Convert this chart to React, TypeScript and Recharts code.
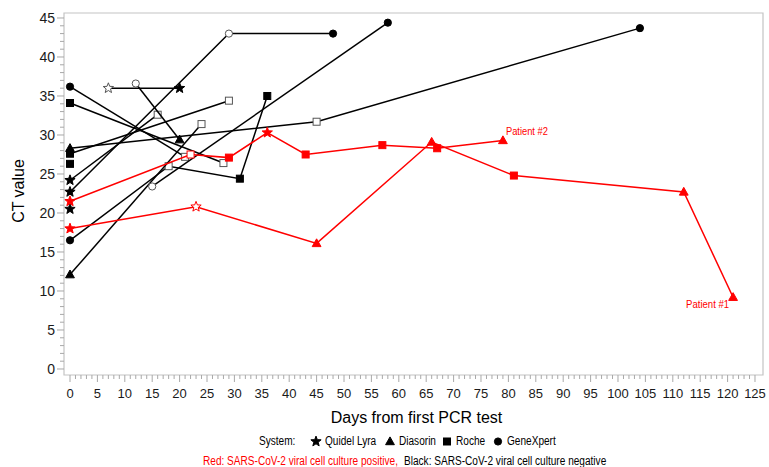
import React from 'react';
import { ScatterChart, Scatter, XAxis, YAxis, ReferenceArea } from 'recharts';

type Pt = { x: number; y: number; m: 'star' | 'tri' | 'sq' | 'cir'; o?: boolean; label?: string };

// Black: culture negative patients
const neg1: Pt[] = [{ x: 0, y: 36.2, m: 'cir' }, { x: 21, y: 27.2, m: 'sq', o: true }];
const neg2: Pt[] = [{ x: 0, y: 34.1, m: 'sq' }, { x: 28, y: 26.4, m: 'sq', o: true }];
const neg3: Pt[] = [{ x: 0, y: 28.3, m: 'tri' }, { x: 45, y: 31.7, m: 'sq', o: true }, { x: 104, y: 43.7, m: 'cir' }];
const neg4: Pt[] = [{ x: 0, y: 27.6, m: 'sq' }, { x: 29, y: 34.4, m: 'sq', o: true }];
const neg5: Pt[] = [{ x: 0, y: 26.3, m: 'sq' }];
const neg6: Pt[] = [{ x: 0, y: 24.2, m: 'star' }, { x: 16, y: 32.6, m: 'sq', o: true }];
const neg7: Pt[] = [{ x: 0, y: 22.7, m: 'star' }, { x: 29, y: 43.0, m: 'cir', o: true }, { x: 48, y: 43.0, m: 'cir' }];
const neg8: Pt[] = [{ x: 0, y: 20.5, m: 'star' }];
const neg9: Pt[] = [{ x: 0, y: 16.5, m: 'cir' }, { x: 18, y: 26.0, m: 'sq', o: true }, { x: 31, y: 24.4, m: 'sq' }, { x: 36, y: 35.0, m: 'sq' }];
const neg10: Pt[] = [{ x: 0, y: 12.1, m: 'tri' }, { x: 24, y: 31.4, m: 'sq', o: true }];
const neg11: Pt[] = [{ x: 7, y: 36.0, m: 'star', o: true }, { x: 20, y: 36.0, m: 'star' }];
const neg12: Pt[] = [{ x: 12, y: 36.6, m: 'cir', o: true }, { x: 20, y: 29.4, m: 'tri' }];
const neg13: Pt[] = [{ x: 15, y: 23.4, m: 'cir', o: true }, { x: 58, y: 44.4, m: 'cir' }];

// Red: culture positive patients
const patient2: Pt[] = [
  { x: 0, y: 21.5, m: 'star' }, { x: 22, y: 27.5, m: 'sq', o: true }, { x: 29, y: 27.1, m: 'sq' },
  { x: 36, y: 30.3, m: 'star' }, { x: 43, y: 27.5, m: 'sq' }, { x: 57, y: 28.7, m: 'sq' },
  { x: 67, y: 28.3, m: 'sq' }, { x: 79, y: 29.3, m: 'tri', label: 'Patient #2' },
];
const patient1: Pt[] = [
  { x: 0, y: 18.0, m: 'star' }, { x: 23, y: 20.8, m: 'star', o: true }, { x: 45, y: 16.1, m: 'tri' },
  { x: 66, y: 29.1, m: 'tri' }, { x: 81, y: 24.8, m: 'sq' }, { x: 112, y: 22.7, m: 'tri' },
  { x: 121, y: 9.2, m: 'tri', label: 'Patient #1' },
];

const negSeries = [neg1, neg2, neg3, neg4, neg5, neg6, neg7, neg8, neg9, neg10, neg11, neg12, neg13];
const posSeries = [patient2, patient1];

const xMajorTicks = [0, 5, 10, 15, 20, 25, 30, 35, 40, 45, 50, 55, 60, 65, 70, 75, 80, 85, 90, 95, 100, 105, 110, 115, 120, 125];
const yMajorTicks = [0, 5, 10, 15, 20, 25, 30, 35, 40, 45];
const xAllTicks = Array.from({ length: 126 }, (_, i) => i);
const yAllTicks = Array.from({ length: 46 }, (_, i) => i);

const X_DOMAIN: [number, number] = [-1.095, 126.46];
const Y_DOMAIN: [number, number] = [-0.77, 45.64];

const legendTitle = 'System:';
const legendItems = [
  { m: 'star', name: 'Quidel Lyra' },
  { m: 'tri', name: 'Diasorin' },
  { m: 'sq', name: 'Roche' },
  { m: 'cir', name: 'GeneXpert' },
];
const footerRed = 'Red: SARS-CoV-2 viral cell culture positive,';
const footerBlack = 'Black: SARS-CoV-2 viral cell culture negative';

const ARIAL = 'Liberation Sans, Arial, sans-serif';
const TICK_GRAY = '#a8a8a8';
const FRAME_GRAY = '#c4c4c4';

function starPath(cx: number, cy: number, R: number, r: number) {
  let d = '';
  for (let i = 0; i < 10; i++) {
    const a = (-90 + i * 36) * Math.PI / 180;
    const rad = i % 2 === 0 ? R : r;
    d += (i === 0 ? 'M' : 'L') + (cx + rad * Math.cos(a)).toFixed(2) + ',' + (cy + rad * Math.sin(a)).toFixed(2);
  }
  return d + 'Z';
}

function Marker({ m, cx, cy, color, open }: { m: string; cx: number; cy: number; color: string; open?: boolean }) {
  const fill = open ? '#fff' : color;
  const stroke = open ? (color === '#000' ? '#555' : color) : color;
  const sw = 1;
  if (m === 'sq') return <rect x={cx - 3.5} y={cy - 3.5} width={7} height={7} fill={fill} stroke={stroke} strokeWidth={sw} />;
  if (m === 'cir') return <circle cx={cx} cy={cy} r={3.6} fill={fill} stroke={stroke} strokeWidth={sw} />;
  if (m === 'tri') return <path d={`M${cx},${cy - 4.6}L${cx + 4.4},${cy + 3.2}L${cx - 4.4},${cy + 3.2}Z`} fill={fill} stroke={stroke} strokeWidth={sw} />;
  return <path d={starPath(cx, cy, 5.4, 2.3)} fill={fill} stroke={stroke} strokeWidth={sw} strokeLinejoin="round" />;
}

const makeShape = (color: string) => (props: any) => {
  const { cx, cy, payload } = props;
  if (cx == null || cy == null) return <g />;
  const p = payload as Pt;
  let label = null;
  if (p.label === 'Patient #2') {
    label = (
      <text x={cx + 3} y={cy - 5} fill={color} fontSize={11} fontFamily={ARIAL} textLength={42} lengthAdjust="spacingAndGlyphs">
        {p.label}
      </text>
    );
  } else if (p.label === 'Patient #1') {
    label = (
      <text x={cx - 47} y={cy + 11} fill={color} fontSize={11} fontFamily={ARIAL} textLength={43} lengthAdjust="spacingAndGlyphs">
        {p.label}
      </text>
    );
  }
  return (
    <g>
      <Marker m={p.m} cx={cx} cy={cy} color={color} open={p.o} />
      {label}
    </g>
  );
};

const blackShape = makeShape('#000');
const redShape = makeShape('#ff0000');

const XTick = (props: any) => {
  const { x, y, payload } = props;
  const v = payload.value as number;
  const major = xMajorTicks.includes(v);
  return (
    <g>
      <line x1={x} x2={x} y1={y} y2={y + (major ? 7 : 4)} stroke={TICK_GRAY} strokeWidth={1} />
      {major && (
        <text x={x} y={y + 23} textAnchor="middle" fontSize={13} fill="#1a1a1a" fontFamily={ARIAL}>{v}</text>
      )}
    </g>
  );
};

const YTick = (props: any) => {
  const { x, y, payload } = props;
  const v = payload.value as number;
  const major = yMajorTicks.includes(v);
  return (
    <g>
      <line x1={x - (major ? 7 : 4)} x2={x} y1={y} y2={y} stroke={TICK_GRAY} strokeWidth={1} />
      {major && (
        <text x={x - 9} y={y + 5} textAnchor="end" fontSize={14} fill="#1a1a1a" fontFamily={ARIAL}>{v}</text>
      )}
    </g>
  );
};

const XTitle = (props: any) => {
  const vb = props.viewBox || {};
  return (
    <text x={vb.x + vb.width / 2 + 3} y={vb.y + 48} textAnchor="middle" fontSize={16} fill="#000" fontFamily={ARIAL}>
      Days from first PCR test
    </text>
  );
};

const YTitle = (props: any) => {
  const vb = props.viewBox || {};
  const cy = vb.y + vb.height / 2 - 3;
  const cx = 10;
  return (
    <text x={cx} y={cy} transform={`rotate(-90, ${cx}, ${cy})`} textAnchor="middle" dominantBaseline="central" fontSize={16} fill="#000" fontFamily={ARIAL}>
      CT value
    </text>
  );
};

function LegendSymbol({ m, left, top }: { m: string; left: number; top: number }) {
  return (
    <svg width={12} height={12} style={{ position: 'absolute', left: left - 6, top: top - 6 }}>
      <Marker m={m} cx={6} cy={6.5} color="#000" />
    </svg>
  );
}

const narrowText = (text: string, left: number, top: number, color: string) => (
  <span
    key={text}
    style={{
      position: 'absolute', left, top: top - 8, height: 16, lineHeight: '16px', fontFamily: ARIAL, fontSize: 12,
      color, whiteSpace: 'nowrap', transform: 'scaleX(0.84)', transformOrigin: '0 50%',
    }}
  >
    {text}
  </span>
);

// legend positions are in chart coordinates (page minus 8px offset)
const LEG_ROW = 433;
const FOOT_ROW = 453;
const legendSymbolX = [308, 382, 439, 490];
const legendTextX = [317, 391, 448, 499];

export default function App() {
  return (
    <div style={{ width: 769, height: 467, boxSizing: 'border-box', padding: '8px 0 0 8px', overflow: 'hidden' }}>
      <style>{'html, body { margin: 0; padding: 0; overflow: hidden; }'}</style>
      <div style={{ position: 'relative', width: 761, height: 459 }}>
        <ScatterChart width={761} height={459} margin={{ top: 5, right: 6, bottom: 0, left: 0 }}>
          <XAxis
            xAxisId="x"
            dataKey="x"
            type="number"
            domain={X_DOMAIN}
            allowDataOverflow
            ticks={xAllTicks}
            interval={0}
            tickSize={0}
            tickMargin={0}
            tickLine={false}
            axisLine={false}
            tick={<XTick />}
            height={92}
            label={<XTitle />}
          />
          <YAxis
            yAxisId="y"
            dataKey="y"
            type="number"
            domain={Y_DOMAIN}
            allowDataOverflow
            ticks={yAllTicks}
            interval={0}
            tickSize={0}
            tickMargin={0}
            tickLine={false}
            axisLine={false}
            tick={<YTick />}
            width={56}
            label={<YTitle />}
          />
          <ReferenceArea
            xAxisId="x"
            yAxisId="y"
            x1={X_DOMAIN[0]}
            x2={X_DOMAIN[1]}
            y1={Y_DOMAIN[0]}
            y2={Y_DOMAIN[1]}
            fill="none"
            stroke={FRAME_GRAY}
            strokeWidth={1.2}
            ifOverflow="visible"
          />
          {negSeries.map((s, i) => (
            <Scatter
              key={'n' + i}
              xAxisId="x"
              yAxisId="y"
              data={s}
              line={{ stroke: '#000', strokeWidth: 1.5 }}
              lineType="joint"
              shape={blackShape}
              isAnimationActive={false}
            />
          ))}
          {posSeries.map((s, i) => (
            <Scatter
              key={'p' + i}
              xAxisId="x"
              yAxisId="y"
              data={s}
              line={{ stroke: '#ff0000', strokeWidth: 1.5 }}
              lineType="joint"
              shape={redShape}
              isAnimationActive={false}
            />
          ))}
        </ScatterChart>
        {narrowText(legendTitle, 251, LEG_ROW, '#000')}
        {legendItems.map((it, i) => (
          <React.Fragment key={it.name}>
            <LegendSymbol m={it.m} left={legendSymbolX[i]} top={LEG_ROW} />
            {narrowText(it.name, legendTextX[i], LEG_ROW, '#000')}
          </React.Fragment>
        ))}
        {narrowText(footerRed, 195, FOOT_ROW, '#ff0000')}
        {narrowText(footerBlack, 396, FOOT_ROW, '#000')}
      </div>
    </div>
  );
}
